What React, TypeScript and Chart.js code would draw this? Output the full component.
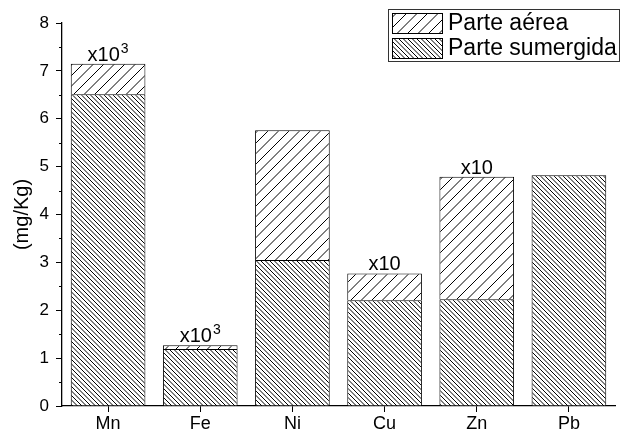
import React, { useEffect, useRef } from 'react';
import { Chart, registerables } from 'chart.js';
Chart.register(...registerables);

const categories = ['Mn', 'Fe', 'Ni', 'Cu', 'Zn', 'Pb'];
const parteSumergida = [6.51, 1.19, 3.05, 2.21, 2.23, 4.82];
const parteAerea: (number | null)[] = [0.64, 0.08, 2.71, 0.56, 2.56, null];
const factorBase = ['x10', 'x10', '', 'x10', 'x10', ''];
const factorExp = ['3', '3', '', '', '', ''];
const seriesNames = ['Parte aérea', 'Parte sumergida'];
const yMin = 0;
const yMax = 8;
const yStep = 1;
const yTitle = '(mg/Kg)';

const FONT = '"Liberation Sans", Arial, Helvetica, sans-serif';

function makePattern(tile: number, lines: number, forward: boolean): CanvasPattern | string {
  const c = document.createElement('canvas');
  c.width = tile;
  c.height = tile;
  const g = c.getContext('2d');
  if (!g) return '#fff';
  g.fillStyle = '#fff';
  g.fillRect(0, 0, tile, tile);
  g.strokeStyle = '#000';
  g.lineWidth = 1;
  const step = tile / lines;
  g.beginPath();
  if (forward) {
    for (let k = 0; k <= 2 * tile + 0.01; k += step) {
      g.moveTo(k + 1, -1);
      g.lineTo(k - tile - 1, tile + 1);
    }
  } else {
    for (let k = -tile; k <= tile + 0.01; k += step) {
      g.moveTo(k - 1, -1);
      g.lineTo(k + tile + 1, tile + 1);
    }
  }
  g.stroke();
  const p = g.createPattern(c, 'repeat');
  return p || '#fff';
}

export default function App() {
  const ref = useRef<HTMLCanvasElement | null>(null);

  useEffect(() => {
    document.body.style.margin = '0';
    const canvas = ref.current;
    if (!canvas) return;
    const patAerea = makePattern(21, 2, true);
    const patSum = makePattern(9, 2, false);

    const overlay = {
      id: 'overlay',
      afterDatasetsDraw(chart: any) {
        const ctx = chart.ctx as CanvasRenderingContext2D;
        const m0 = chart.getDatasetMeta(0).data;
        const m1 = chart.getDatasetMeta(1).data;
        ctx.save();
        ctx.fillStyle = '#000';
        ctx.textBaseline = 'alphabetic';
        ctx.textAlign = 'left';
        for (let i = 0; i < categories.length; i++) {
          if (!factorBase[i]) continue;
          const el = parteAerea[i] == null ? m0[i] : m1[i];
          const x = el.x;
          const y = el.y - 3;
          ctx.font = `20px ${FONT}`;
          const wb = ctx.measureText(factorBase[i]).width;
          ctx.font = `14px ${FONT}`;
          const we = factorExp[i] ? ctx.measureText(factorExp[i]).width + 1 : 0;
          const x0 = x - (wb + we) / 2;
          ctx.font = `20px ${FONT}`;
          ctx.fillText(factorBase[i], x0, y);
          if (factorExp[i]) {
            ctx.font = `14px ${FONT}`;
            ctx.fillText(factorExp[i], x0 + wb + 1, y - 8);
          }
        }
        ctx.restore();
      },
      afterDraw(chart: any) {
        const ctx = chart.ctx as CanvasRenderingContext2D;
        const ys = chart.scales.y;
        const area = chart.chartArea;
        ctx.save();
        ctx.strokeStyle = '#000';
        ctx.lineWidth = 1;
        ctx.beginPath();
        for (let v = yMin + yStep / 2; v < yMax; v += yStep) {
          const py = Math.round(ys.getPixelForValue(v)) + 0.5;
          ctx.moveTo(area.left - 3, py);
          ctx.lineTo(area.left, py);
        }
        ctx.stroke();
        ctx.save();
        ctx.translate(22, (area.top + area.bottom) / 2);
        ctx.rotate(-Math.PI / 2);
        ctx.font = `20px ${FONT}`;
        ctx.textAlign = 'center';
        ctx.textBaseline = 'middle';
        ctx.fillStyle = '#000';
        ctx.fillText(yTitle, 0, 0);
        ctx.restore();
        const lx = 388, ly = 9, lw = 232, lh = 53;
        ctx.fillStyle = '#fff';
        ctx.fillRect(lx, ly, lw, lh);
        ctx.strokeStyle = '#333';
        ctx.lineWidth = 1;
        ctx.strokeRect(lx + 0.5, ly + 0.5, lw - 1, lh - 1);
        const pats = [patAerea, patSum];
        for (let i = 0; i < 2; i++) {
          const sy = 13 + i * 25;
          ctx.fillStyle = pats[i] as any;
          ctx.fillRect(392, sy, 51, 21);
          ctx.strokeStyle = '#000';
          ctx.strokeRect(392.5, sy + 0.5, 50, 20);
          ctx.fillStyle = '#000';
          ctx.font = `23px ${FONT}`;
          ctx.textAlign = 'left';
          ctx.textBaseline = 'middle';
          ctx.fillText(seriesNames[i], 448, sy + 11);
        }
        ctx.restore();
      },
    };

    const chart = new Chart(canvas, {
      type: 'bar',
      data: {
        labels: categories,
        datasets: [
          {
            label: seriesNames[1],
            data: parteSumergida,
            backgroundColor: patSum as any,
            borderColor: '#000',
            borderWidth: 1,
            borderSkipped: 'bottom',
            barPercentage: 0.81,
            categoryPercentage: 1,
          },
          {
            label: seriesNames[0],
            data: parteAerea as any,
            backgroundColor: patAerea as any,
            borderColor: '#000',
            borderWidth: 1,
            borderSkipped: 'bottom',
            barPercentage: 0.81,
            categoryPercentage: 1,
          },
        ],
      },
      options: {
        responsive: false,
        animation: false,
        devicePixelRatio: 1,
        layout: { padding: { top: 23, right: 6, left: 0, bottom: 0 } },
        plugins: { legend: { display: false }, tooltip: { enabled: false } },
        scales: {
          x: {
            stacked: true,
            grid: {
              display: true,
              drawOnChartArea: false,
              drawTicks: true,
              tickLength: 6,
              color: '#000',
              offset: false,
            },
            border: { display: true, color: '#000', width: 1.3 },
            ticks: { color: '#000', font: { family: FONT, size: 18 }, padding: 1 },
            afterFit: (s: any) => {
              s.height = 27;
            },
          },
          y: {
            stacked: true,
            min: yMin,
            max: yMax,
            grid: {
              display: true,
              drawOnChartArea: false,
              drawTicks: true,
              tickLength: 6,
              color: '#000',
            },
            border: { display: true, color: '#000', width: 1.3 },
            ticks: { stepSize: yStep, color: '#000', font: { family: FONT, size: 17 }, padding: 7 },
            afterFit: (s: any) => {
              s.width = 62;
            },
          },
        },
      },
      plugins: [overlay],
    });
    return () => chart.destroy();
  }, []);

  return (
    <div style={{ width: 621, height: 433, background: '#fff' }}>
      <canvas ref={ref} width={621} height={433} style={{ display: 'block' }} />
    </div>
  );
}
